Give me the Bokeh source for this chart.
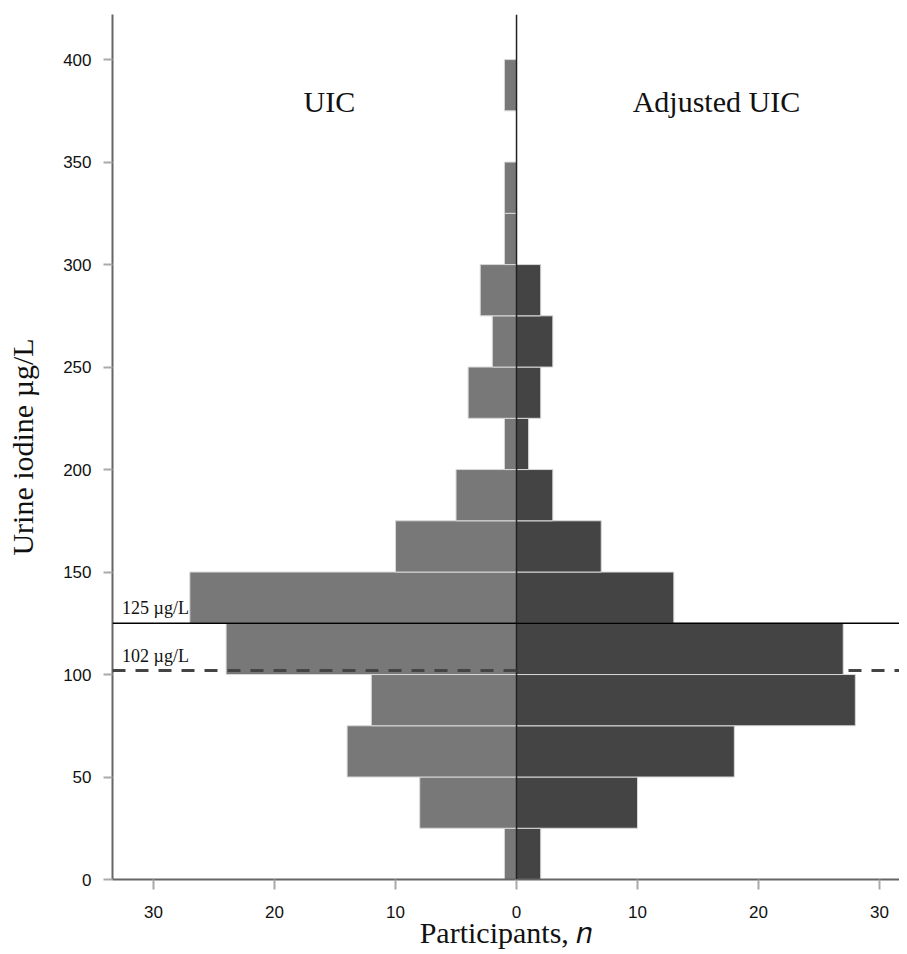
from bokeh.plotting import figure
from bokeh.models import Span, Label, FixedTicker, Range1d
from bokeh.embed import file_html
from bokeh.resources import INLINE

# Bin lower edges (µg/L), bin width 25
bin_lower = [0, 25, 50, 75, 100, 125, 150, 175, 200, 225, 250, 275, 300, 325, 350, 375]
bin_width = 25
uic_counts = [1, 8, 14, 12, 24, 27, 10, 5, 1, 4, 2, 3, 1, 1, 0, 1]
adjusted_counts = [2, 10, 18, 28, 27, 13, 7, 3, 1, 2, 3, 2, 0, 0, 0, 0]

x_ticks = [-30, -20, -10, 0, 10, 20, 30]
y_ticks = [0, 50, 100, 150, 200, 250, 300, 350, 400]
median_uic = 125
median_adjusted = 102

SERIF = "Liberation Serif"
SANS = "Liberation Sans"

p = figure(width=899, height=951, output_backend="svg", toolbar_location=None,
           x_range=Range1d(-33.39, 31.65), y_range=Range1d(0, 422),
           min_border_left=112, min_border_right=0, min_border_top=14, min_border_bottom=40)

p.grid.visible = False
p.outline_line_color = None

bottoms = bin_lower
tops = [b + bin_width for b in bin_lower]

p.quad(left=[-c for c in uic_counts], right=[0] * len(uic_counts), bottom=bottoms, top=tops,
       fill_color="#787878", line_color="#d8d8d8", line_width=1)
p.quad(left=[0] * len(adjusted_counts), right=adjusted_counts, bottom=bottoms, top=tops,
       fill_color="#444444", line_color="#d8d8d8", line_width=1)

p.add_layout(Span(location=0, dimension="height", line_color="#222222", line_width=1.5))
p.add_layout(Span(location=median_uic, dimension="width", line_color="#000000", line_width=1.5))
p.add_layout(Span(location=median_adjusted, dimension="width", line_color="#444444",
                  line_width=3, line_dash="13 10"))

# Axes
p.xaxis.ticker = FixedTicker(ticks=x_ticks)
p.xaxis.major_label_overrides = {t: str(abs(t)) for t in x_ticks}
p.yaxis.ticker = FixedTicker(ticks=y_ticks)

for ax in (p.xaxis, p.yaxis):
    ax.axis_line_color = "#666666"
    ax.axis_line_width = 2
    ax.major_tick_line_color = "#aaaaaa"
    ax.major_tick_line_width = 2
    ax.minor_tick_line_color = None
    ax.major_tick_in = 0
    ax.major_label_text_font = SANS
    ax.major_label_text_font_size = "17px"
    ax.major_label_text_color = "#111111"
    ax.axis_label_text_font = SERIF
    ax.axis_label_text_font_size = "30px"
    ax.axis_label_text_font_style = "normal"
    ax.axis_label_text_color = "#111111"

p.xaxis.major_tick_out = 10
p.xaxis.major_label_standoff = 16
p.yaxis.major_tick_out = 9
p.yaxis.major_label_standoff = 12

p.yaxis.axis_label = "Urine iodine µg/L"
p.yaxis.axis_label_standoff = 21

p.xaxis.axis_label = "Participants, \U0001D45B"
p.xaxis.axis_label_standoff = -5

# Panel titles
p.add_layout(Label(x=-17.6, y=379.5, text="UIC", text_font=SERIF, text_font_size="30px",
                   text_color="#111111", text_baseline="alphabetic"))
p.add_layout(Label(x=9.6, y=379.5, text="Adjusted UIC", text_font=SERIF, text_font_size="30px",
                   text_color="#111111", text_baseline="alphabetic"))

# Median labels
p.add_layout(Label(x=-32.6, y=132.4, text="125 µg/L", text_font=SERIF, text_font_size="18px",
                   text_color="#111111", text_baseline="alphabetic"))
p.add_layout(Label(x=-32.6, y=108.9, text="102 µg/L", text_font=SERIF, text_font_size="18px",
                   text_color="#111111", text_baseline="alphabetic"))

open("out.html", "w").write(file_html(p, INLINE))
